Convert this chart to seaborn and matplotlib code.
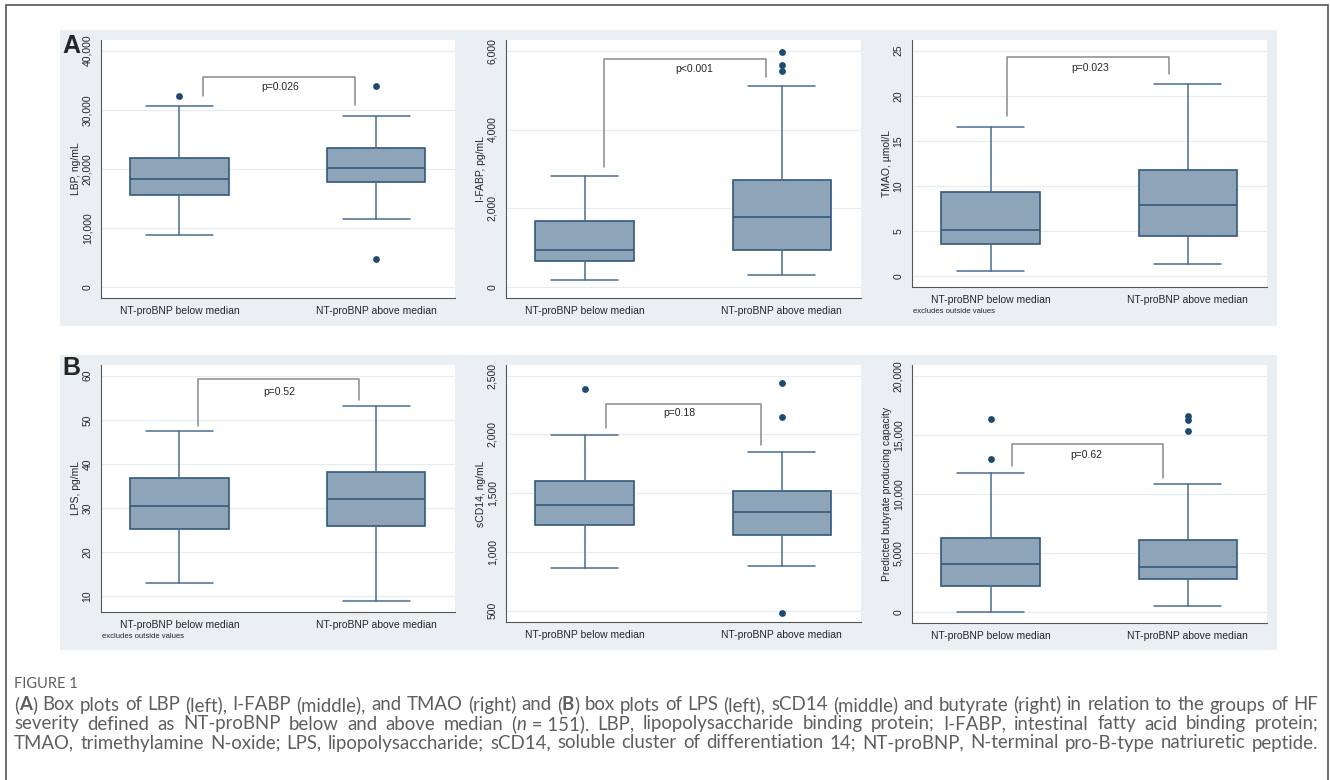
import numpy as np
import pandas as pd
import matplotlib.pyplot as plt
import matplotlib.ticker as mticker
from matplotlib.patches import Rectangle
import seaborn as sns

sns.set_style("white")
plt.rcParams['font.family'] = ['Liberation Sans', 'DejaVu Sans']

groups = ["NT-proBNP below median", "NT-proBNP above median"]

# box stats: [lower whisker, q1, median, q3, upper whisker]
lbp_box = [[8830, 15640, 18280, 21940, 30660], [11530, 17780, 20250, 23520, 28920]]
lbp_out = [[32350], [34040, 4730]]
ifabp_box = [[194, 675, 945, 1679, 2819], [304, 945, 1772, 2717, 5097]]
ifabp_out = [[], [5966, 5646, 5477]]
tmao_box = [[0.55, 3.62, 5.13, 9.38, 16.51], [1.37, 4.43, 7.87, 11.74, 21.31]]
tmao_out = [[], []]
lps_box = [[12.95, 25.26, 30.47, 36.89, 47.39], [8.94, 26.01, 31.98, 38.25, 53.13]]
lps_out = [[], []]
scd14_box = [[860, 1232, 1399, 1606, 1995], [880, 1141, 1343, 1521, 1850]]
scd14_out = [[2389], [2440, 2148, 483]]
buty_box = [[0, 2225, 4056, 6254, 11803], [535, 2789, 3803, 6085, 10817]]
buty_out = [[16310, 12930], [16620, 16282, 15352]]

p_values = ["p=0.026", "p<0.001", "p=0.023", "p=0.52", "p=0.18", "p=0.62"]
y_labels = ["LBP, ng/mL", "I-FABP, pg/mL", "TMAO, \u00b5mol/L",
            "LPS, pg/mL", "sCD14, ng/mL", "Predicted butyrate producing capacity"]

# bracket: x left, x right, top, left leg end, right leg end, label x, label y
brackets = [
    [0.12, 0.89, 35610, 32350, 30770, 0.51, 33810],
    [0.10, 0.92, 5789, 3046, 5342, 0.556, 5527],
    [0.085, 0.905, 24.26, 17.76, 22.38, 0.506, 23.1],
    [0.092, 0.912, 59.17, 48.52, 54.49, 0.509, 56.2],
    [0.107, 0.895, 2256, 2057, 1910, 0.48, 2179],
    [0.11, 0.874, 14197, 12366, 11380, 0.486, 13296],
]

y_limits = [(-1800, 41800), (-270, 6270), (-1.14, 26.18),
            (6.53, 62.4), (406, 2591), (-873, 20901)]
y_ticks = [np.arange(0, 40001, 10000), np.arange(0, 6001, 2000), np.arange(0, 26, 5),
           np.arange(10, 61, 10), np.arange(500, 2501, 500), np.arange(0, 20001, 5000)]
note = [False, False, True, True, False, False]

boxes = [lbp_box, ifabp_box, tmao_box, lps_box, scd14_box, buty_box]
outs = [lbp_out, ifabp_out, tmao_out, lps_out, scd14_out, buty_out]

W, H = 1330, 780
fig = plt.figure(figsize=(W / 100, H / 100), dpi=100)
fig.patch.set_facecolor('white')


def rect(l, t, r, b):
    return [l / W, 1 - b / H, (r - l) / W, (b - t) / H]


# outer frame and the two grey-blue panels
fig.patches.append(Rectangle((6 / W, -0.05), 1322 / W, 1.05 - 5 / H, transform=fig.transFigure,
                             fill=False, edgecolor='#555555', lw=1.2, zorder=-2))
for t, b in [(30, 326), (355, 650)]:
    r = rect(60, t, 1277, b)
    fig.patches.append(Rectangle((r[0], r[1]), r[2], r[3], transform=fig.transFigure,
                                 facecolor='#e9eff2', edgecolor='none', zorder=-1))
fig.text(62 / W, 1 - 53 / H, "A", fontsize=18, weight='bold', va='baseline')
fig.text(62 / W, 1 - 375 / H, "B", fontsize=18, weight='bold', va='baseline')

axes_px = [(100.7, 40, 455, 298), (505.7, 40, 860.7, 298), (911.7, 40, 1266.7, 286.7),
           (100.7, 365, 455, 611.7), (505.7, 365, 860.7, 621.7), (911.7, 365, 1266.7, 622.7)]

fill = '#8ea4b8'
edge = '#33597c'
whisk = '#4a6d8f'
dot = '#1d4a73'

for i in range(6):
    ax = fig.add_axes(rect(*axes_px[i]))
    ax.set_facecolor('white')
    stats = []
    for g in range(2):
        lo, q1, med, q3, hi = boxes[i][g]
        stats.append(dict(whislo=lo, q1=q1, med=med, q3=q3, whishi=hi, fliers=[]))
    ax.bxp(stats, positions=[0, 1], widths=0.5, capwidths=0.34, patch_artist=True,
           boxprops=dict(facecolor=fill, edgecolor=edge, lw=1.2),
           medianprops=dict(color=edge, lw=1.2),
           whiskerprops=dict(color=whisk, lw=1.1),
           capprops=dict(color=whisk, lw=1.1), manage_ticks=False, zorder=3)

    pts = pd.DataFrame({'pos': [g for g in range(2) for _ in outs[i][g]],
                        'val': [v for g in range(2) for v in outs[i][g]]})
    if len(pts):
        sns.scatterplot(data=pts, x='pos', y='val', ax=ax, color=dot, s=24,
                        edgecolor=dot, linewidth=0, legend=False, zorder=4)

    xl, xr, top, ll, rl, tx, ty = brackets[i]
    ax.plot([xl, xl, xr, xr], [ll, top, top, rl], color='#8a8a8a', lw=1.1, zorder=2)
    ax.text(tx, ty, p_values[i], fontsize=7.5, ha='center', va='center')

    ax.set_xlim(-0.4, 1.4)
    ax.set_ylim(*y_limits[i])
    ax.set_xticks([0, 1])
    ax.set_xticklabels(groups)
    ax.set_yticks(y_ticks[i])
    if i in (2, 3):
        ax.yaxis.set_major_formatter(mticker.FuncFormatter(lambda v, p: f"{v:g}"))
    else:
        ax.yaxis.set_major_formatter(mticker.FuncFormatter(lambda v, p: f"{v:,.0f}"))
    ax.set_xlabel("")
    ax.set_ylabel(y_labels[i], fontsize=7.5, labelpad=1)
    ax.yaxis.grid(True, color='#e6edf0', lw=0.9)
    ax.set_axisbelow(True)
    for s in ['top', 'right']:
        ax.spines[s].set_visible(False)
    for s in ['left', 'bottom']:
        ax.spines[s].set_color('#555555')
        ax.spines[s].set_linewidth(0.8)
    ax.tick_params(axis='x', length=0, labelsize=7.5, pad=6)
    ax.tick_params(axis='y', length=4, width=0.8, color='#555555', labelsize=7.5,
                   labelrotation=90, pad=2)
    for lab in ax.get_yticklabels():
        lab.set_va('center')
    if note[i]:
        ax.text(0.005, -0.085, "excludes outside values", transform=ax.transAxes,
                fontsize=5.5, ha='left', va='top')

# caption
cap_color = '#5e5e5e'
fig.text(14 / W, 1 - 684 / H, "FIGURE 1", fontsize=10.5, color=cap_color,
         family='Lato', va='center')

B = dict(weight='bold')
I = dict(style='italic')
line1 = [[("(", {}), ("A", B), (")", {})]] + [[(w, {})] for w in
         "Box plots of LBP (left), I-FABP (middle), and TMAO (right) and".split()] + \
        [[("(", {}), ("B", B), (")", {})]] + [[(w, {})] for w in
         "box plots of LPS (left), sCD14 (middle) and butyrate (right) in relation to the groups of HF".split()]
line2 = [[(w, {})] for w in "severity defined as NT-proBNP below and above median".split()] + \
        [[("(", {}), ("n", I), (" = 151).", {})]] + [[(w, {})] for w in
         "LBP, lipopolysaccharide binding protein; I-FABP, intestinal fatty acid binding protein;".split()]
line3 = [[(w, {})] for w in
         "TMAO, trimethylamine N-oxide; LPS, lipopolysaccharide; sCD14, soluble cluster of differentiation 14; NT-proBNP, N-terminal pro-B-type natriuretic peptide.".split()]

renderer = fig.canvas.get_renderer()

# pick a caption size so that line 1 with ordinary spaces nearly fills the width
probe = fig.text(0, 0, "(A) Box plots of LBP (left), I-FABP (middle), and TMAO (right) and (B) box plots "
                 "of LPS (left), sCD14 (middle) and butyrate (right) in relation to the groups of HF",
                 fontsize=10, family='Lato')
cap_size = 10 * 1285 / probe.get_window_extent(renderer).width
probe.remove()


def justified(words, y, x0=14, x1=1318, size=cap_size):
    placed = []
    for word in words:
        parts = []
        for txt, kw in word:
            t = fig.text(0, 1 - y / H, txt, fontsize=size, color=cap_color,
                         family='Lato', va='center', **kw)
            parts.append((t, t.get_window_extent(renderer).width))
        placed.append(parts)
    widths = [sum(w for _, w in parts) for parts in placed]
    gap = (x1 - x0 - sum(widths)) / (len(placed) - 1)
    x = x0
    for parts in placed:
        for t, w in parts:
            t.set_x(x / W)
            x += w
        x += gap


justified(line1, 705)
justified(line2, 724)
justified(line3, 743)

fig.savefig("out.png", dpi=100)
